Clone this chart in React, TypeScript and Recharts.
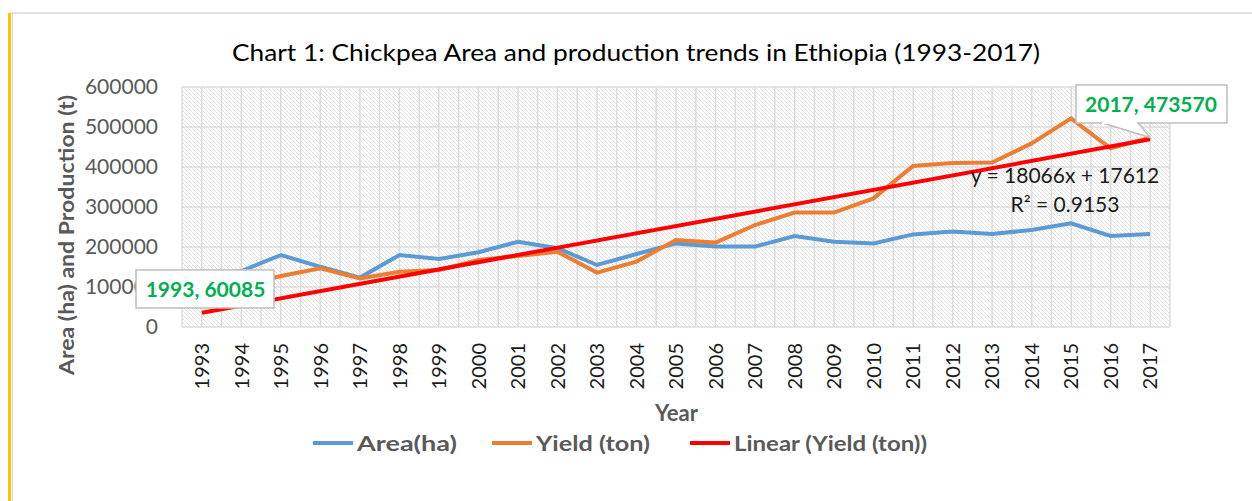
import React from "react";
import { CartesianGrid, LabelList, Line, LineChart, XAxis, YAxis } from "recharts";

const years = [
  "1993", "1994", "1995", "1996", "1997", "1998", "1999", "2000", "2001",
  "2002", "2003", "2004", "2005", "2006", "2007", "2008", "2009", "2010",
  "2011", "2012", "2013", "2014", "2015", "2016", "2017",
];

const areaHa = [
  130000, 140000, 180000, 150500, 123500, 180000, 170000, 187000, 213000,
  197000, 155000, 182500, 209000, 201000, 201000, 227500, 213000, 209000,
  231500, 238500, 232500, 242500, 259000, 227500, 232500,
];

const yieldTon = [
  60085, 103500, 127500, 146500, 121500, 138000, 142500, 167500, 177500,
  188000, 136000, 163500, 217500, 211000, 255000, 286000, 286000, 321500,
  402500, 410000, 411000, 459000, 521500, 446500, 473570,
];

// linear trend end points (1993 and 2017) as drawn
const trendEnds = [35678, 469262];

const yTicks = [0, 100000, 200000, 300000, 400000, 500000, 600000];

const legendNames = ["Area(ha)", "Yield (ton)", "Linear (Yield (ton))"];
const legendColors = ["#5b9bd5", "#ed7d31", "#ff0000"];

const data = years.map((year, i) => ({
  year,
  area: areaHa[i],
  yield: yieldTon[i],
  trend: i === 0 ? trendEnds[0] : i === years.length - 1 ? trendEnds[1] : null,
}));

const FONT = "Lato, 'Open Sans', sans-serif";

const YearTick = (props: any) => {
  const { x, y, payload } = props;
  return (
    <text
      x={x}
      y={y}
      transform={`rotate(-90 ${x} ${y})`}
      textAnchor="end"
      dy="0.36em"
      fill="#1a1a1a"
      fontSize={20}
    >
      {payload.value}
    </text>
  );
};

const YieldLabel = (props: any) => {
  const { x, y, index, value } = props;
  const text = `${years[index]}, ${value}`;
  if (index === 0) {
    return (
      <g>
        <rect x={x - 66} y={y - 33} width={138} height={38} fill="#fff" stroke="#bfbfbf" strokeWidth={1.5} />
        <text x={x + 3.5} y={y - 6} textAnchor="middle" fill="#00b050" fontSize={21} fontWeight="bold">
          {text}
        </text>
      </g>
    );
  }
  if (index === years.length - 1) {
    return (
      <g>
        <polygon points={`${x - 49},${y - 15} ${x - 12},${y - 15} ${x},${y}`} fill="#fff" stroke="#bfbfbf" strokeWidth={1.5} />
        <rect x={x - 74} y={y - 52.6} width={151} height={38} fill="#fff" stroke="#bfbfbf" strokeWidth={1.5} />
        <line x1={x - 48} y1={y - 14.6} x2={x - 13} y2={y - 14.6} stroke="#fff" strokeWidth={2} />
        <text x={x + 1} y={y - 26} textAnchor="middle" fill="#00b050" fontSize={21} fontWeight="bold">
          {text}
        </text>
      </g>
    );
  }
  return null;
};

export default function App() {
  const legendStart = [313, 492, 690];
  const legendTextLen = [100, 114, 193];
  return (
    <div
      style={{
        position: "absolute",
        left: 0,
        top: 0,
        width: 1252,
        height: 501,
        background: "#fff",
        fontFamily: FONT,
      }}
    >
      <LineChart
        width={1252}
        height={501}
        data={data}
        margin={{ top: 87, right: 82, left: 0, bottom: 114 }}
      >
        <defs>
          <pattern id="hatch" width="4" height="4" patternUnits="userSpaceOnUse">
            <rect width="4" height="4" fill="#fff" />
            <path d="M-1,-1 L5,5 M-1,3 L1,5 M3,-1 L5,1" stroke="#e0e0e0" strokeWidth={1} />
          </pattern>
        </defs>
        <CartesianGrid
          fill="url(#hatch)"
          fillOpacity={1}
          stroke="#dcdcdc"
          strokeWidth={1.5}
          verticalCoordinatesGenerator={({ offset }: any) =>
            Array.from({ length: years.length * 2 + 1 }, (_, i) => offset.left + (i * offset.width) / (years.length * 2))
          }
        />
        <XAxis
          dataKey="year"
          interval={0}
          padding={{ left: 20, right: 20 }}
          height={60}
          tickSize={0}
          tickMargin={16}
          tickLine={false}
          axisLine={false}
          tick={<YearTick />}
        />
        <YAxis
          domain={[0, 600000]}
          ticks={yTicks}
          width={182}
          tickSize={0}
          tickMargin={24}
          tickLine={false}
          axisLine={false}
          tick={{ fill: "#595959", fontSize: 21 }}
        />
        <Line dataKey="area" stroke="#5b9bd5" strokeWidth={4} dot={false} isAnimationActive={false} />
        <Line dataKey="yield" stroke="#ed7d31" strokeWidth={4} dot={false} isAnimationActive={false} />
        <Line dataKey="trend" stroke="#ff0000" strokeWidth={4} dot={false} connectNulls isAnimationActive={false} />
        <Line dataKey="yield" stroke="none" dot={false} legendType="none" isAnimationActive={false}>
          <LabelList dataKey="yield" content={<YieldLabel />} />
        </Line>
      </LineChart>

      <svg
        width={1252}
        height={501}
        style={{ position: "absolute", left: 0, top: 0, pointerEvents: "none", fontFamily: FONT }}
      >
        {/* frame */}
        <line x1={10} y1={13} x2={1252} y2={13} stroke="#d9d9d9" strokeWidth={1.5} />
        <line x1={12.5} y1={13} x2={12.5} y2={501} stroke="#d9d9d9" strokeWidth={1} />
        <rect x={8} y={13} width={3} height={488} fill="#ffc000" />

        <text x={636} y={61} textAnchor="middle" fontSize={23} fill="#000" textLength={808} lengthAdjust="spacingAndGlyphs">
          Chart 1: Chickpea Area and production trends in Ethiopia (1993-2017)
        </text>

        <text
          x={74}
          y={235}
          transform="rotate(-90 74 235)"
          textAnchor="middle"
          fontSize={20}
          fontWeight="bold"
          fill="#595959"
          textLength={280}
          lengthAdjust="spacingAndGlyphs"
        >
          Area (ha) and Production (t)
        </text>

        <text x={676.5} y={421} textAnchor="middle" fontSize={22} fontWeight="bold" fill="#595959" textLength={43} lengthAdjust="spacingAndGlyphs">
          Year
        </text>

        <text x={1065} y={182.5} textAnchor="middle" fontSize={21} fill="#1a1a1a">
          y = 18066x + 17612
        </text>
        <text x={1065} y={211.5} textAnchor="middle" fontSize={21} fill="#1a1a1a">
          R² = 0.9153
        </text>

        {legendNames.map((name, i) => {
          const x0 = legendStart[i];
          return (
            <g key={name}>
              <line x1={x0} y1={443} x2={x0 + 40} y2={443} stroke={legendColors[i]} strokeWidth={4} />
              <text
                x={x0 + 44}
                y={451}
                fontSize={21}
                fontWeight="bold"
                fill="#595959"
                textLength={legendTextLen[i]}
                lengthAdjust="spacingAndGlyphs"
              >
                {name}
              </text>
            </g>
          );
        })}
      </svg>
    </div>
  );
}
